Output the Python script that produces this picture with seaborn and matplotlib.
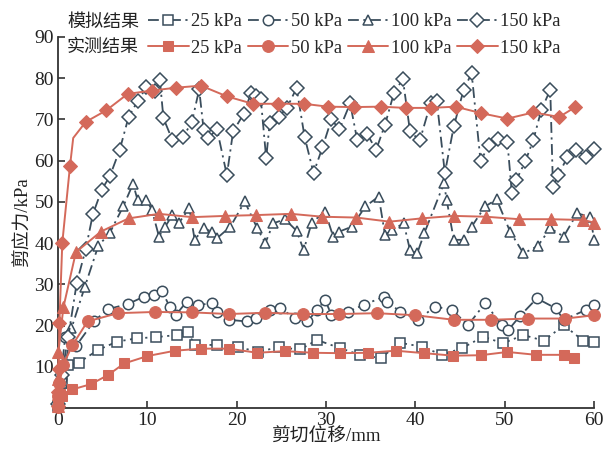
import matplotlib
matplotlib.use("Agg")
import matplotlib.pyplot as plt
import seaborn as sns
import pandas as pd

# ---- simulated shear stress curves (kPa) vs shear displacement (mm) ----
sim25_x = [0, 0.2, 0.5, 1.15, 2.3, 4.5, 6.6, 8.8, 11.0, 13.3, 14.5, 15.3, 17.8, 20.2, 22.4,
           24.7, 27.1, 29.0, 31.6, 33.8, 36.1, 38.3, 40.7, 43.0, 45.2, 47.6, 49.8, 52.1,
           54.4, 56.6, 58.8, 60.0]
sim25_y = [0.5, 3.0, 6.0, 10.5, 11.0, 14.1, 16.1, 16.9, 17.2, 17.7, 18.5, 15.3, 15.3, 14.7, 13.7,
           14.7, 14.2, 16.5, 14.5, 12.9, 12.1, 15.8, 14.9, 12.9, 14.5, 17.3, 15.7, 17.7,
           16.3, 20.1, 16.3, 16.1]

sim50_x = [0, 0.3, 0.8, 2.0, 4.0, 5.6, 7.8, 9.6, 10.7, 11.6, 12.5, 13.2, 14.4, 15.7, 17.2, 17.8,
           19.1, 21.1, 22.2, 23.7, 24.9, 26.5, 27.9, 29.0, 29.9, 30.6, 32.5, 34.2, 36.5,
           36.8, 38.3, 40.3, 42.2, 44.1, 45.9, 47.8, 49.7, 50.4, 51.7, 53.6, 55.7, 56.6,
           59.1, 60.0]
sim50_y = [1.0, 7.0, 17.3, 15.0, 21.0, 24.0, 25.2, 27.0, 27.4, 28.5, 24.6, 22.6, 25.8, 25.0,
           25.4, 23.4, 21.4, 21.0, 21.8, 23.8, 24.2, 21.8, 21.0, 23.8, 26.2, 22.6, 23.4,
           25.0, 27.0, 25.8, 23.4, 21.4, 24.6, 23.8, 20.1, 25.4, 20.1, 18.9, 22.3, 26.6,
           24.2, 21.4, 23.8, 25.0]

sim100_x = [0, 0.5, 1.5, 3.0, 4.5, 5.8, 7.3, 8.4, 8.9, 9.9, 10.5, 11.3, 12.0, 12.8, 13.5, 14.7,
            15.3, 16.3, 17.2, 17.8, 19.3, 20.9, 22.3, 23.2, 24.1, 25.4, 26.7, 27.5, 28.4,
            29.9, 30.8, 31.5, 32.9, 34.4, 35.9, 36.6, 37.4, 38.7, 39.4, 40.2, 41.0, 43.2,
            43.5, 44.3, 45.4, 46.3, 47.8, 49.1, 50.6, 52.1, 53.7, 55.1, 56.6, 58.1, 59.6,
            60.0]
sim100_y = [1.0, 6.0, 19.3, 29.4, 39.3, 42.5, 48.9, 54.4, 50.5, 50.5, 48.1, 41.6, 44.0, 46.8,
            44.8, 48.5, 40.8, 43.6, 42.8, 41.2, 44.0, 50.1, 43.6, 40.0, 44.8, 45.8, 43.0,
            38.3, 45.0, 47.6, 41.6, 42.8, 44.0, 48.9, 51.3, 42.0, 43.2, 44.8, 38.3, 37.5,
            42.4, 54.5, 50.5, 40.8, 40.8, 44.0, 48.9, 50.6, 42.8, 37.5, 39.3, 43.6, 41.6,
            47.2, 46.4, 40.8]

sim150_x = [0, 0.4, 1.15, 2.1, 3.1, 3.9, 4.9, 5.8, 6.9, 7.9, 8.9, 9.9, 10.9, 11.4, 11.8, 12.8,
            14.0, 15.0, 15.8, 16.3, 16.8, 17.8, 18.9, 19.6, 20.8, 21.6, 22.2, 22.7, 23.3,
            23.7, 24.7, 25.6, 26.7, 27.6, 28.6, 29.6, 30.6, 31.5, 32.7, 33.5, 34.6, 35.6,
            36.6, 37.6, 38.6, 39.4, 40.5, 41.7, 42.4, 43.3, 44.3, 45.4, 46.3, 47.3, 48.2,
            49.3, 50.3, 50.8, 51.3, 52.3, 53.2, 54.1, 55.1, 55.4, 56.0, 57.0, 58.0, 59.1,
            60.0]
sim150_y = [1.0, 8.0, 17.3, 30.4, 38.5, 47.0, 53.0, 56.2, 62.6, 70.6, 74.4, 77.8, 77.0, 79.6,
            70.3, 65.0, 65.7, 69.5, 77.3, 67.5, 65.5, 67.6, 56.5, 67.1, 71.4, 76.4, 75.6,
            74.9, 60.6, 69.2, 70.7, 72.7, 77.6, 65.8, 57.0, 63.2, 70.0, 67.6, 73.9, 64.9,
            66.5, 62.6, 68.7, 76.4, 79.8, 67.1, 64.9, 73.9, 74.4, 57.0, 68.3, 77.2, 81.2,
            59.8, 63.8, 65.2, 64.6, 52.1, 55.3, 59.8, 65.0, 72.3, 77.2, 53.7, 56.5, 60.8,
            62.6, 61.0, 62.8]

# ---- measured shear stress curves ----
meas25_x = [0, 0.05, 0.2, 0.5, 1.6, 3.7, 5.6, 7.4, 10.0, 13.1, 16.0, 19.1, 22.3, 25.4, 28.5,
            31.6, 34.7, 37.8, 41.0, 44.2, 47.3, 50.3, 53.5, 56.6, 57.7]
meas25_y = [0.3, 2.0, 3.4, 3.0, 4.5, 5.8, 8.0, 10.8, 12.6, 13.9, 14.4, 14.4, 13.4, 13.8, 13.4,
            13.3, 13.4, 13.9, 13.3, 12.7, 12.8, 13.6, 12.9, 12.9, 12.1]

meas50_x = [0, 0.05, 0.15, 0.6, 1.6, 3.3, 6.7, 10.8, 15.0, 19.1, 23.2, 27.4, 31.5, 35.7, 40.0,
            44.3, 48.5, 52.6, 56.8, 60.0]
meas50_y = [0.3, 3.0, 6.0, 10.5, 15.2, 21.0, 23.0, 23.3, 23.2, 22.8, 23.1, 22.8, 22.8, 23.0,
            22.5, 21.4, 21.4, 21.7, 21.7, 22.5]

meas100_x = [0, 0.01, 0.03, 0.05, 0.6, 2.0, 4.8, 7.9, 11.3, 15.0, 18.7, 22.2, 26.1, 29.6, 33.4,
             37.1, 40.7, 44.3, 47.9, 51.6, 55.2, 58.8, 60.0]
meas100_y = [0.5, 3.5, 7.0, 13.7, 24.4, 37.8, 42.8, 46.0, 47.1, 46.3, 46.6, 46.8, 47.1, 46.4,
             46.2, 45.2, 46.0, 46.6, 46.4, 45.8, 45.8, 45.6, 45.0]

meas150_x = [0, 0.02, 0.08, 0.15, 0.48, 1.34, 1.7, 3.1, 5.4, 7.8, 10.5, 13.2, 16.0, 18.9, 21.8,
             24.6, 27.5, 30.2, 33.1, 36.1, 38.9, 41.7, 44.5, 47.4, 50.3, 53.2, 56.1, 57.9]
meas150_y = [0.5, 4.0, 9.5, 20.5, 40.1, 58.7, 65.5, 69.4, 72.2, 76.2, 77.0, 77.7, 78.2, 75.6,
             73.8, 73.8, 73.8, 73.1, 73.0, 73.1, 72.8, 72.8, 73.1, 71.5, 70.2, 71.7, 70.6, 73.0]

loads = ["25 kPa", "50 kPa", "100 kPa", "150 kPa"]
x_ticks = [0, 10, 20, 30, 40, 50, 60]
y_ticks = [10, 20, 30, 40, 50, 60, 70, 80, 90]

SIM_COLOR = "#3a4d5c"
MEAS_COLOR = "#d4695a"
TEXT_COLOR = "#222222"

sns.set_theme(style="ticks")
plt.rcParams["font.family"] = ["Liberation Serif", "Noto Sans CJK SC"]
plt.rcParams["axes.unicode_minus"] = False

fig = plt.figure(figsize=(6.05, 4.49), dpi=100)
ax = fig.add_axes([0.0959, 0.0913, 0.886, 0.8263])

sim_sets = [(sim25_x, sim25_y, "s"), (sim50_x, sim50_y, "o"),
            (sim100_x, sim100_y, "^"), (sim150_x, sim150_y, "D")]
meas_sets = [(meas25_x, meas25_y, "s", 7), (meas50_x, meas50_y, "o", 8.5),
             (meas100_x, meas100_y, "^", 8.5), (meas150_x, meas150_y, "D", 7.5)]

sim_handles, meas_handles = [], []
for (xs, ys, mk), lab in zip(sim_sets, loads):
    df = pd.DataFrame({"disp": xs, "stress": ys})
    sns.lineplot(data=df, x="disp", y="stress", ax=ax, color=SIM_COLOR, sort=False,
                 estimator=None, linestyle=(0, (6, 2.5, 1.2, 2.5)), linewidth=1.3,
                 marker=mk, markersize=7.5 if mk != "D" else 7, markerfacecolor="white",
                 markeredgecolor=SIM_COLOR, markeredgewidth=1.1, clip_on=False,
                 label=lab, zorder=3)
    sim_handles.append(ax.get_lines()[-1])

for (xs, ys, mk, ms), lab in zip(meas_sets, loads):
    df = pd.DataFrame({"disp": xs, "stress": ys})
    every = [i for i in range(len(xs)) if not (mk == "D" and i == 6)]
    sns.lineplot(data=df, x="disp", y="stress", ax=ax, color=MEAS_COLOR, sort=False,
                 estimator=None, linestyle="-", linewidth=1.4, marker=mk, markersize=ms,
                 markerfacecolor=MEAS_COLOR, markeredgecolor=MEAS_COLOR, markevery=every,
                 clip_on=False, label=lab, zorder=4)
    meas_handles.append(ax.get_lines()[-1])

ax.set_xlim(0, 60)
ax.set_ylim(0, 90)
ax.set_xticks(x_ticks)
ax.set_yticks(y_ticks)
ax.tick_params(direction="in", length=5, width=1.1, labelsize=14, colors=TEXT_COLOR,
               pad=3)
for s in ("top", "right"):
    ax.spines[s].set_visible(False)
for s in ("left", "bottom"):
    ax.spines[s].set_linewidth(1.3)
    ax.spines[s].set_color("#333333")
ax.set_xlabel("剪切位移/mm", fontsize=13.5, labelpad=0, color=TEXT_COLOR)
ax.set_ylabel("剪应力/kPa", fontsize=13.5, labelpad=2, color=TEXT_COLOR)

# two-row legend: simulated on top, measured below
if ax.get_legend() is not None:
    ax.get_legend().remove()
handles = []
labels = []
for h1, h2, lab in zip(sim_handles, meas_handles, loads):
    handles += [h1, h2]
    labels += [lab, lab]
fig.legend(handles, labels, ncol=4, loc="upper left", bbox_to_anchor=(0.2446, 0.970),
           frameon=False, fontsize=13.3, handlelength=2.2, handletextpad=0.15,
           columnspacing=0.3, labelspacing=0.5, borderaxespad=0, borderpad=0)
fig.text(0.1107, 0.951, "模拟结果", fontsize=13, va="center", ha="left", color=TEXT_COLOR)
fig.text(0.1107, 0.895, "实测结果", fontsize=13, va="center", ha="left", color=TEXT_COLOR)

fig.savefig("out.png", dpi=100, facecolor="white")
